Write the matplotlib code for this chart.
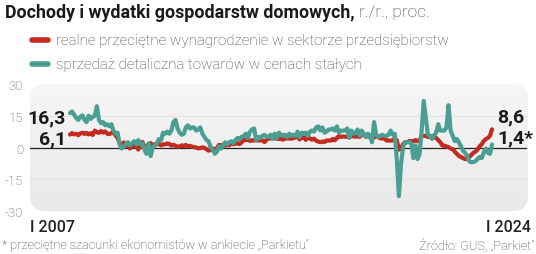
#!/usr/bin/env python

import numpy as np
import pandas as pd
import matplotlib
matplotlib.use("Agg")
import matplotlib.pyplot as plt
from matplotlib.patches import FancyBboxPatch

# monthly y/y changes, %, I 2007 - I 2024
wages = [
    6.1, 6.8, 6.2, 6.5, 5.8, 6.6, 7.0, 6.4, 6.9, 6.2, 6.8, 5.9,
    8.0, 7.2, 6.9, 7.8, 7.0, 7.6, 6.5, 6.3, 6.9, 7.2, 5.8, 4.5,
    2.0, 1.2, 2.4, 1.0, 0.6, -0.5, 1.3, 0.5, 0.9, -1.0, 1.0, 2.6,
    0.5, 0.2, 1.4, 2.1, 0.5, 1.6, 1.4, 1.8, 1.0, 1.5, 1.5, 1.9,
    1.7, 0.9, 1.3, 0.8, 0.4, 0.5, 1.0, 0.7, 1.2, 0.5, 0.8, 0.3,
    0.2, 0.0, -0.4, -0.3, 0.1, -0.2, -0.8, -1.5, -1.2, -0.4, -1.8, -0.3,
    1.2, 1.0, 1.3, 0.9, 1.2, 1.0, 2.4, 1.5, 1.8, 2.0, 1.6, 2.5,
    3.6, 3.5, 3.8, 3.1, 3.4, 3.3, 3.4, 3.3, 3.4, 3.4, 2.6, 3.6,
    4.5, 4.2, 5.8, 4.3, 4.2, 4.0, 4.1, 3.7, 4.3, 4.3, 4.3, 4.1,
    4.6, 4.7, 5.3, 3.8, 4.6, 4.8, 3.6, 5.2, 4.2, 3.7, 4.2, 3.2,
    2.8, 2.5, 2.8, 2.6, 3.3, 3.3, 3.2, 4.0, 3.4, 4.5, 5.4, 5.0,
    5.2, 5.1, 5.0, 6.0, 5.3, 5.3, 5.1, 5.3, 5.0, 6.0, 6.4, 5.2,
    5.3, 5.0, 5.6, 4.7, 5.6, 4.9, 4.3, 4.3, 4.4, 3.3, 3.3, 3.3,
    3.3, 4.4, 3.4, -1.0, -0.5, 1.5, 2.5, 2.5, 3.0, 3.0, 3.0, 3.5,
    3.0, 3.5, 5.5, 5.5, 5.5, 5.0, 5.0, 5.5, 5.0, 4.5, 3.5, 2.5,
    1.0, 0.8, 0.5, 0.2, -0.5, -0.8, -2.0, -3.0, -4.0, -4.5, -5.0, -5.5,
    -5.0, -4.5, -3.5, -2.5, -2.0, -1.0, 0.5, 1.5, 3.0, 4.0, 4.5, 5.5,
    8.6,
]

retail = [
    16.3, 17.0, 15.5, 14.0, 13.0, 14.5, 15.2, 13.0, 12.0, 15.0, 13.5, 14.5,
    15.0, 19.5, 13.0, 11.5, 12.0, 10.5, 11.0, 10.0, 11.0, 8.0, 6.5, 7.0,
    1.5, -0.5, 0.5, 1.5, 2.5, 1.0, 2.0, 3.0, 1.5, 3.5, 1.5, 2.0,
    -1.0, -3.0, 2.0, -4.0, 0.0, 1.0, 2.0, 4.0, 3.5, 7.0, 6.5, 7.5,
    6.5, 8.0, 12.0, 13.0, 9.0, 7.0, 6.0, 6.5, 9.5, 10.5, 9.0, 9.5,
    9.5, 8.0, 8.5, 9.5, 6.5, 5.0, 3.5, 3.0, 0.0, -1.0, -3.0, -2.0,
    0.5, -0.5, 1.0, 2.5, 1.5, 2.5, 3.0, 2.0, 3.5, 4.5, 4.0, 5.0,
    5.5, 6.5, 4.5, 7.5, 8.5, 9.0, 3.5, 5.0, 4.5, 5.5, 6.0, 5.0,
    5.0, 6.0, 4.0, 6.5, 4.5, 7.0, 6.0, 5.5, 6.0, 5.0, 6.5, 5.5,
    6.0, 5.5, 7.5, 5.0, 7.0, 6.5, 7.0, 5.5, 7.5, 8.0, 7.5, 9.5,
    10.0, 8.0, 9.5, 7.0, 7.5, 8.5, 8.5, 9.0, 8.0, 10.0, 7.0, 8.0,
    8.0, 8.0, 9.0, 4.5, 8.0, 6.5, 7.0, 8.5, 5.5, 8.0, 6.5, 5.0,
    6.5, 5.5, 2.5, 12.0, 6.0, 5.0, 5.5, 6.0, 5.5, 5.5, 6.0, 8.0,
    6.0, 6.5, -6.0, -23.0, -8.0, 0.0, 2.5, 2.5, 2.5, 2.0, -5.0, 1.0,
    -5.5, -3.0, 8.0, 22.0, 14.0, 6.0, 5.5, 4.0, 5.5, 7.0, 11.0, 8.0,
    8.0, 8.0, 9.5, 20.0, 8.0, 5.5, 3.0, 4.0, 2.5, 0.5, -1.5, -2.5,
    -4.0, -6.5, -7.0, -6.8, -6.5, -5.5, -4.5, -5.0, -2.5, -0.5, -2.5, -3.0,
    1.4,
]

months = pd.date_range("2007-01-01", periods=len(wages), freq="MS")
yticks = [30, 15, 0, -15, -30]

RED = "#c22b1e"
TEAL = "#4a9e92"
W, H = 536, 255

fig = plt.figure(figsize=(W / 100, H / 100), dpi=100)
fig.patch.set_facecolor("white")

# plot box: x 30..528, y 85..212 (pixels from top)
ax = fig.add_axes([30 / W, 1 - 212 / H, 498 / W, 127 / H])
ax.set_facecolor("none")
for s in ax.spines.values():
    s.set_visible(False)

x = np.arange(len(months))
px_per_month = 422 / (len(months) - 1)
ax.set_xlim(-40 / px_per_month, (len(months) - 1) + 36 / px_per_month)
ax.set_ylim(-30, 30)

# rounded grey background with a soft vertical gradient
box = FancyBboxPatch((0.0, 0.0), 1.0, 1.0, boxstyle="round,pad=0,rounding_size=0.03",
                     transform=ax.transAxes, facecolor="none", edgecolor="none",
                     mutation_aspect=498 / 127)
ax.add_patch(box)
grad = np.linspace(0, 1, 100).reshape(-1, 1)
img = ax.imshow(grad, extent=[ax.get_xlim()[0], ax.get_xlim()[1], -30, 30],
                aspect="auto", cmap=matplotlib.colors.LinearSegmentedColormap.from_list(
                    "bg", ["#e9e9e9", "#f6f6f6"]), origin="lower", zorder=0)
img.set_clip_path(box)

for v in (15, -15):
    ax.axhline(v, color="#e2e2e2", lw=0.8, zorder=1)
ax.axhline(0, color="#222222", lw=0.9, xmax=0.995, zorder=2)

ax.plot(x, wages, color=RED, lw=3.0, solid_capstyle="round", zorder=3)
ax.plot(x, retail, color=TEAL, lw=3.0, solid_capstyle="round", zorder=4)

ax.set_xticks([])
ax.set_yticks(yticks)
ax.set_yticklabels([str(v) for v in yticks], fontsize=9.5, color="#555555",
                   family="Roboto", fontweight="light")
ax.tick_params(axis="y", length=0, pad=5)

# end labels
lab = dict(family=["Roboto", "DejaVu Sans"], fontweight="bold", fontsize=14,
           color="#1a1a1a", transform=fig.transFigure, va="center")
fig.text(66 / W, 1 - 118 / H, "16,3", ha="right", **lab)
fig.text(66 / W, 1 - 139 / H, "6,1", ha="right", **lab)
fig.text(497 / W, 1 - 117 / H, "8,6", ha="left", **lab)
fig.text(497 / W, 1 - 138 / H, "1,4*", ha="left", **lab)

# title
fig.text(5 / W, 1 - 13 / H, "Dochody i wydatki gospodarstw domowych,", fontsize=12.8,
         fontweight="bold", family="Roboto", color="#1a1a1a", va="center")
fig.text(359 / W, 1 - 13 / H, "r./r., proc.", fontsize=12.5, fontweight="light",
         family="Roboto", color="#444444", va="center")

# legend
for yy, txt, col in [(41, "realne przeciętne wynagrodzenie w sektorze przedsiębiorstw", RED),
                     (65, "sprzedaż detaliczna towarów w cenach stałych", TEAL)]:
    fig.add_artist(plt.Line2D([32 / W, 48 / W], [1 - yy / H, 1 - yy / H], color=col,
                              lw=4, solid_capstyle="round", transform=fig.transFigure))
    fig.text(56 / W, 1 - yy / H, txt, fontsize=10.9, fontweight="light", family="Roboto",
             color="#444444", va="center")

# x labels
fig.text(30 / W, 1 - 228 / H, "I 2007", fontsize=11.5, family="Roboto",
         fontweight="medium", color="#222222", va="center", ha="left")
fig.text(531 / W, 1 - 228 / H, "I 2024", fontsize=11.5, family="Roboto",
         fontweight="medium", color="#222222", va="center", ha="right")

# footer
fig.text(2 / W, 1 - 246 / H, "* przeciętne szacunki ekonomistów w ankiecie „Parkietu”",
         fontsize=9.2, family="Roboto", fontweight="light", color="#444444", va="center")
fig.text(534 / W, 1 - 246 / H, "Źródło: GUS, „Parkiet”", fontsize=9.2, family="Roboto",
         fontweight="light", color="#444444", va="center", ha="right")

fig.savefig("out.png", dpi=100)
